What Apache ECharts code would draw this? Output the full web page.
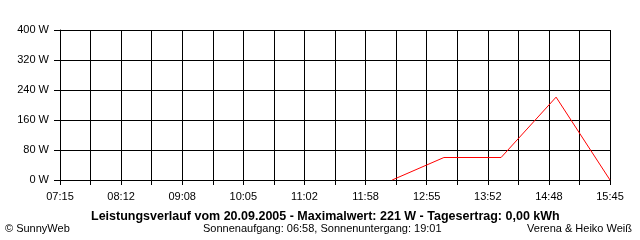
<!DOCTYPE html>
<html><head><meta charset="utf-8">
<script src="https://cdn.jsdelivr.net/npm/echarts@6/dist/echarts.min.js"></script>
<style>html,body{margin:0;padding:0;background:#fff}#c{width:640px;height:240px}</style>
</head><body><div id="c"></div>
<script>
// Data (times, watts)
var startTime = "07:15";
var endTime = "15:45";
var xTickLabels = ["07:15","08:12","09:08","10:05","11:02","11:58","12:55","13:52","14:48","15:45"];
var yTickValues = [0,80,160,240,320,400];
var powerTimes = ["12:23","13:11","14:04","14:55","15:45"];
var powerValues = [0,60,60,221,0];
var titleText = "Leistungsverlauf vom 20.09.2005 - Maximalwert: 221 W - Tagesertrag: 0,00 kWh";
var sunText = "Sonnenaufgang: 06:58, Sonnenuntergang: 19:01";
var leftText = "© SunnyWeb";
var rightText = "Verena & Heiko Weiß";

function toMin(t){var p=t.split(":");return (+p[0])*60+(+p[1]);}
var t0 = toMin(startTime), span = toMin(endTime)-t0;
var nGrid = (xTickLabels.length-1)*2;
var step = span/nGrid;
var seriesData = powerTimes.map(function(t,i){return [toMin(t)-t0, powerValues[i]];});

var chart = echarts.init(document.getElementById('c'), null, {renderer:'canvas'});
var font = "'Liberation Sans', Arial, sans-serif";
chart.setOption({
  animation:false,
  backgroundColor:'#fff',
  grid:{left:60,top:30,right:30,bottom:60,containLabel:false},
  xAxis:{type:'value',min:0,max:span,interval:step,
    axisLine:{show:true,lineStyle:{color:'#000',width:1}},
    axisTick:{show:true,length:5,lineStyle:{color:'#000'}},
    splitLine:{show:true,lineStyle:{color:'#000',width:1}},
    axisLabel:{color:'#000',fontFamily:font,fontSize:11,margin:11,showMinLabel:true,showMaxLabel:true,
      formatter:function(v){var k=Math.round(v/step); if(k%2!==0) return ''; return xTickLabels[k/2]||'';}}
  },
  yAxis:{type:'value',min:yTickValues[0],max:yTickValues[yTickValues.length-1],interval:yTickValues[1]-yTickValues[0],
    axisLine:{show:true,lineStyle:{color:'#000',width:1}},
    axisTick:{show:true,length:6,lineStyle:{color:'#000'}},
    splitLine:{show:true,lineStyle:{color:'#000',width:1}},
    axisLabel:{color:'#000',fontFamily:font,fontSize:11,margin:11,formatter:'{value} W'}
  },
  series:[{type:'line',data:seriesData,symbol:'none',lineStyle:{color:'#ff0000',width:1},z:5}],
  graphic:[
    {type:'text',left:91,top:210,style:{text:titleText,font:"bold 12.5px "+font,fill:'#000'}},
    {type:'text',left:5,top:223,style:{text:leftText,font:"11px "+font,fill:'#000'}},
    {type:'text',left:203,top:223,style:{text:sunText,font:"11px "+font,fill:'#000'}},
    {type:'text',right:8,top:223,style:{text:rightText,font:"11px "+font,fill:'#000'}}
  ]
});
</script></body></html>
